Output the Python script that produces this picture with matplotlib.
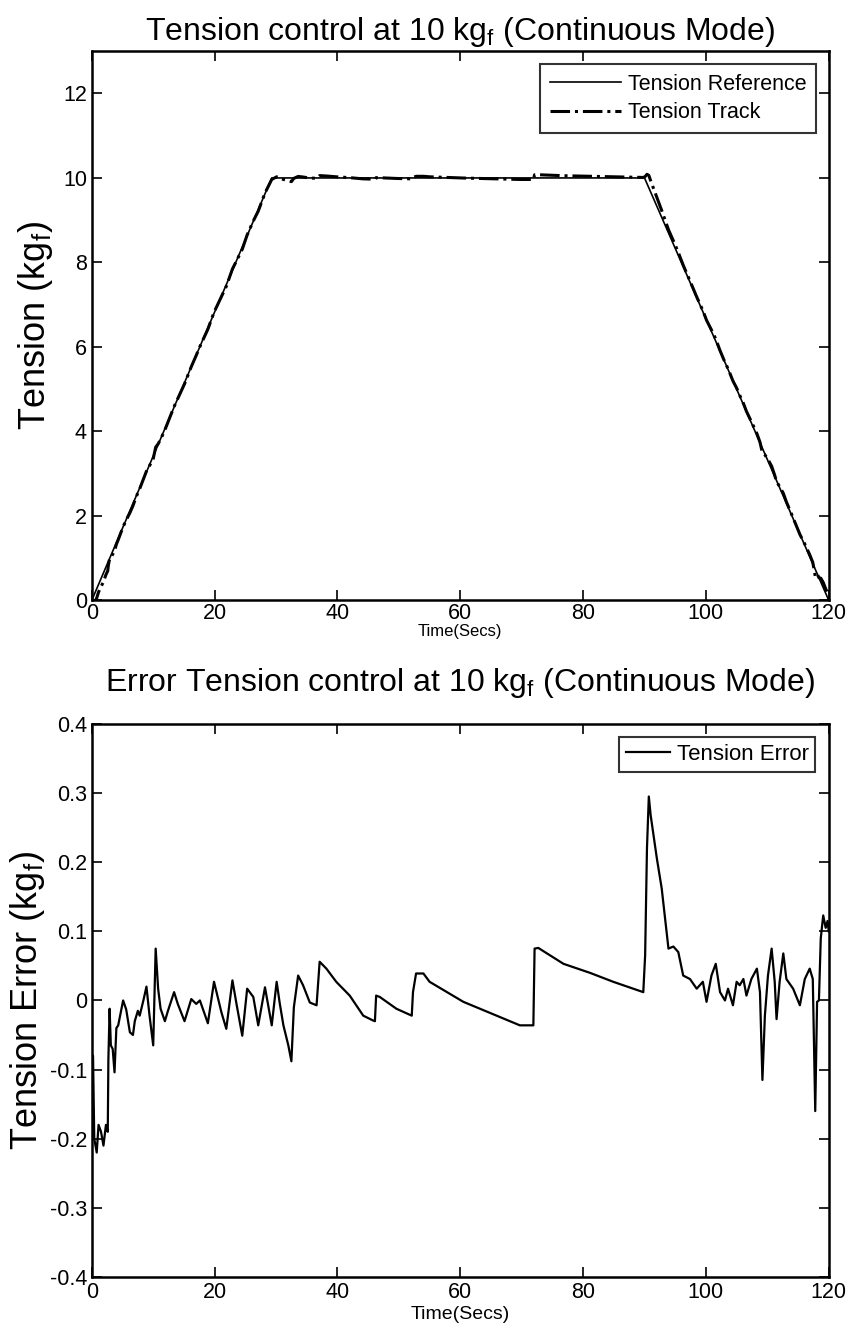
import numpy as np
from matplotlib import pyplot as plt

plt.rcParams['font.family'] = ['Liberation Sans', 'DejaVu Sans']

#%% Data
# Tension reference profile (trapezoid)
ref_t = [0, 29.3, 90.0, 120]
ref_v = [0, 10, 10, 0]

# Tension error (kgf)
err_t = [0.0, 0.2, 0.4, 0.8, 1.1, 1.5, 1.9, 2.3, 2.6, 2.7, 2.9, 3.1, 3.4, 3.7, 4.0,
         4.3, 5.1, 5.6, 6.2, 6.7, 7.0, 7.5, 7.8, 8.4, 8.9, 9.4, 10.0, 10.4, 10.8,
         11.2, 11.9, 12.4, 13.4, 14.0, 15.1, 16.2, 17.0, 17.6, 18.9, 19.9, 21.1,
         21.9, 22.9, 23.6, 24.5, 25.3, 26.3, 27.1, 28.2, 29.3, 30.1, 30.6, 31.2,
         32.0, 32.5, 32.9, 33.6, 34.4, 35.5, 36.6, 37.1, 38.2, 39.8, 42.0, 44.2,
         45.8, 46.1, 46.3, 46.9, 49.6, 52.1, 52.3, 52.8, 54.0, 55.0, 60.5, 65.9,
         69.7, 71.9, 72.0, 72.1, 72.7, 76.8, 81.1, 84.9, 89.8, 90.1, 90.4, 90.7,
         91.0, 92.0, 92.8, 93.6, 93.9, 94.7, 95.5, 96.3, 97.4, 98.5, 99.5, 100.1,
         100.9, 101.6, 102.3, 103.1, 103.6, 104.4, 105.0, 105.5, 106.1, 106.6,
         107.4, 108.3, 108.8, 109.2, 109.6, 110.1, 110.7, 111.2, 111.5, 112.0,
         112.6, 113.1, 114.2, 115.3, 116.1, 116.9, 117.4, 117.8, 118.1, 118.4,
         118.7, 119.1, 119.5, 119.8, 120.0]
err_v = [-0.08, -0.08, -0.20, -0.22, -0.18, -0.19, -0.21, -0.18, -0.19, -0.085,
         -0.012, -0.065, -0.07, -0.104, -0.04, -0.036, 0.0, -0.013, -0.046, -0.05,
         -0.03, -0.015, -0.022, 0.0, 0.02, -0.022, -0.065, 0.075, 0.017, -0.012,
         -0.03, -0.015, 0.012, -0.005, -0.03, 0.002, -0.005, 0.0, -0.033, 0.027,
         -0.017, -0.041, 0.029, -0.007, -0.051, 0.017, 0.005, -0.036, 0.019,
         -0.036, 0.027, -0.004, -0.036, -0.065, -0.088, -0.01, 0.036, 0.022,
         -0.003, -0.007, 0.056, 0.046, 0.027, 0.007, -0.022, -0.029, -0.03,
         0.007, 0.005, -0.012, -0.022, 0.012, 0.039, 0.039, 0.027, -0.002,
         -0.022, -0.036, -0.036, 0.017, 0.075, 0.076, 0.053, 0.040, 0.027,
         0.012, 0.065, 0.22, 0.295, 0.268, 0.206, 0.162, 0.099, 0.075, 0.078,
         0.070, 0.036, 0.031, 0.017, 0.027, -0.002, 0.036, 0.053, 0.012, 0.0,
         0.017, -0.007, 0.027, 0.022, 0.031, 0.007, 0.031, 0.046, 0.012, -0.115,
         -0.022, 0.036, 0.075, 0.027, -0.027, 0.027, 0.068, 0.031, 0.017,
         -0.007, 0.031, 0.046, 0.031, -0.16, -0.002, 0.0, 0.09, 0.123, 0.105,
         0.115, 0.10]

# tracked tension = reference + error
track_t = np.array(err_t)
track_v = np.interp(track_t, ref_t, ref_v) + np.array(err_v)

#%% Figure
fig = plt.figure(figsize=(8.5, 13.31), dpi=100)
ax1 = fig.add_axes([0.108, 0.549, 0.867, 0.4125])
ax2 = fig.add_axes([0.108, 0.0406, 0.867, 0.4155])

for ax in (ax1, ax2):
    ax.tick_params(direction='in', length=7, width=1.2, top=True, right=True,
                   labelsize=15.5)
    for s in ax.spines.values():
        s.set_linewidth(1.8)
    ax.set_xlim(0, 120)
    ax.set_xticks([0, 20, 40, 60, 80, 100, 120])

# Top panel
ax1.plot(ref_t, ref_v, '-', color='black', lw=1.2, label='Tension Reference')
ax1.plot(track_t, track_v, '-.', color='black', lw=2.2, label='Tension Track')
ax1.set_ylim(0, 13)
ax1.set_yticks([0, 2, 4, 6, 8, 10, 12])
ax1.tick_params(axis='x', pad=2)
ax1.set_title('Tension control at 10 kg$_{\\mathregular{f}}$ (Continuous Mode)',
              fontsize=23, pad=8)
ax1.set_ylabel('Tension (kg$_{\\mathregular{f}}$)', fontsize=26, labelpad=6)
ax1.set_xlabel('Time(Secs)', fontsize=12, labelpad=0)
leg1 = ax1.legend(loc='upper right', fontsize=15.5, handlelength=3.3,
                  fancybox=False, edgecolor='black', borderaxespad=0.6,
                  labelspacing=0.35, borderpad=0.45, handletextpad=0.3)
leg1.get_frame().set_linewidth(1.5)

# Bottom panel
ax2.plot(err_t, err_v, '-', color='black', lw=1.6, label='Tension Error')
ax2.set_ylim(-0.4, 0.4)
ax2.set_yticks([-0.4, -0.3, -0.2, -0.1, 0, 0.1, 0.2, 0.3, 0.4])
ax2.set_yticklabels(['-0.4', '-0.3', '-0.2', '-0.1', '0', '0.1', '0.2', '0.3', '0.4'])
ax2.set_title('Error Tension control at 10 kg$_{\\mathregular{f}}$ (Continuous Mode)',
              fontsize=23, pad=24)
ax2.set_ylabel('Tension Error (kg$_{\\mathregular{f}}$)', fontsize=26, labelpad=2)
ax2.set_xlabel('Time(Secs)', fontsize=14, labelpad=2)
leg2 = ax2.legend(loc='upper right', fontsize=16, handlelength=2.0,
                  fancybox=False, edgecolor='black', borderaxespad=0.6,
                  borderpad=0.3, handletextpad=0.3)
leg2.get_frame().set_linewidth(1.5)

plt.savefig('out.png', dpi=100)
